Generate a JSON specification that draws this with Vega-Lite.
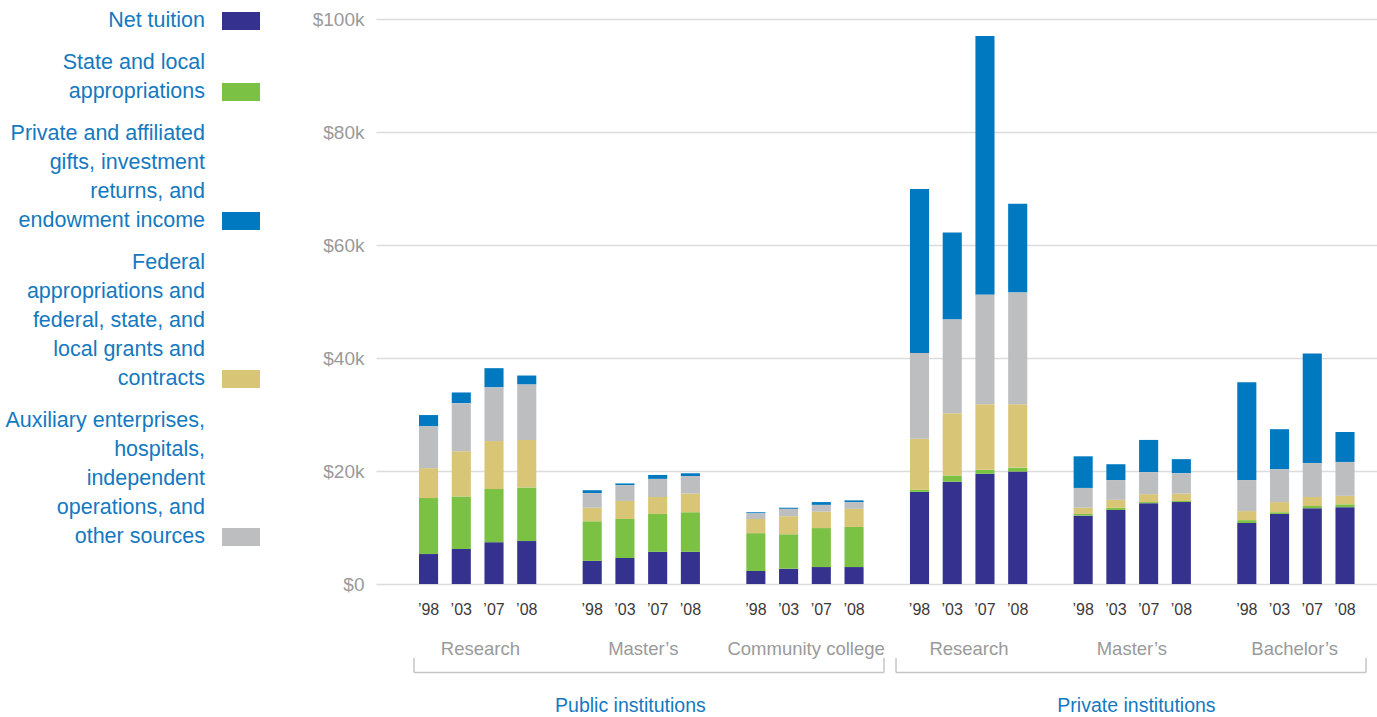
{
  "$schema": "https://vega.github.io/schema/vega-lite/v6.json",
  "autosize": {"type": "none"},
  "padding": {"left": 376, "top": 19, "right": 0, "bottom": 133},
  "width": 1001,
  "height": 565,
  "background": "white",
  "config": {
    "view": {"stroke": null},
    "font": "Liberation Sans",
    "legend": {"padding": 0}
  },
  "datasets": {
    "bars": [
      {"grp": "Public|Research", "key": "Public Research|’98", "tuition": 5300, "state": 9900, "federal": 5300, "aux": 7400, "gifts": 2000},
      {"grp": "Public|Research", "key": "Public Research|’03", "tuition": 6200, "state": 9300, "federal": 8000, "aux": 8500, "gifts": 1900},
      {"grp": "Public|Research", "key": "Public Research|’07", "tuition": 7400, "state": 9400, "federal": 8500, "aux": 9500, "gifts": 3400},
      {"grp": "Public|Research", "key": "Public Research|’08", "tuition": 7600, "state": 9500, "federal": 8400, "aux": 9800, "gifts": 1600},
      {"grp": "Public|Master’s", "key": "Public Master’s|’98", "tuition": 4100, "state": 7000, "federal": 2400, "aux": 2600, "gifts": 500},
      {"grp": "Public|Master’s", "key": "Public Master’s|’03", "tuition": 4600, "state": 6900, "federal": 3200, "aux": 2800, "gifts": 300},
      {"grp": "Public|Master’s", "key": "Public Master’s|’07", "tuition": 5700, "state": 6700, "federal": 3000, "aux": 3200, "gifts": 700},
      {"grp": "Public|Master’s", "key": "Public Master’s|’08", "tuition": 5700, "state": 7000, "federal": 3300, "aux": 3100, "gifts": 500},
      {"grp": "Public|Community college", "key": "Public Community college|’98", "tuition": 2300, "state": 6700, "federal": 2500, "aux": 1000, "gifts": 200},
      {"grp": "Public|Community college", "key": "Public Community college|’03", "tuition": 2700, "state": 6100, "federal": 3200, "aux": 1300, "gifts": 200},
      {"grp": "Public|Community college", "key": "Public Community college|’07", "tuition": 3000, "state": 6900, "federal": 2900, "aux": 1200, "gifts": 500},
      {"grp": "Public|Community college", "key": "Public Community college|’08", "tuition": 3000, "state": 7100, "federal": 3200, "aux": 1200, "gifts": 300},
      {"grp": "Private|Research", "key": "Private Research|’98", "tuition": 16300, "state": 400, "federal": 9000, "aux": 15200, "gifts": 29000},
      {"grp": "Private|Research", "key": "Private Research|’03", "tuition": 18100, "state": 1100, "federal": 11000, "aux": 16600, "gifts": 15400},
      {"grp": "Private|Research", "key": "Private Research|’07", "tuition": 19500, "state": 700, "federal": 11600, "aux": 19400, "gifts": 45800},
      {"grp": "Private|Research", "key": "Private Research|’08", "tuition": 19900, "state": 700, "federal": 11200, "aux": 19800, "gifts": 15700},
      {"grp": "Private|Master’s", "key": "Private Master’s|’98", "tuition": 12100, "state": 300, "federal": 1100, "aux": 3500, "gifts": 5600},
      {"grp": "Private|Master’s", "key": "Private Master’s|’03", "tuition": 13100, "state": 400, "federal": 1400, "aux": 3500, "gifts": 2800},
      {"grp": "Private|Master’s", "key": "Private Master’s|’07", "tuition": 14300, "state": 200, "federal": 1400, "aux": 3900, "gifts": 5700},
      {"grp": "Private|Master’s", "key": "Private Master’s|’08", "tuition": 14500, "state": 200, "federal": 1300, "aux": 3600, "gifts": 2500},
      {"grp": "Private|Bachelor’s", "key": "Private Bachelor’s|’98", "tuition": 10800, "state": 500, "federal": 1600, "aux": 5500, "gifts": 17300},
      {"grp": "Private|Bachelor’s", "key": "Private Bachelor’s|’03", "tuition": 12400, "state": 300, "federal": 1800, "aux": 5800, "gifts": 7100},
      {"grp": "Private|Bachelor’s", "key": "Private Bachelor’s|’07", "tuition": 13400, "state": 400, "federal": 1600, "aux": 6000, "gifts": 19400},
      {"grp": "Private|Bachelor’s", "key": "Private Bachelor’s|’08", "tuition": 13600, "state": 500, "federal": 1500, "aux": 6000, "gifts": 5300}
    ],
    "groups": [
      {"grp": "Public|Research"},
      {"grp": "Public|Master’s"},
      {"grp": "Public|Community college"},
      {"grp": "Private|Research"},
      {"grp": "Private|Master’s"},
      {"grp": "Private|Bachelor’s"}
    ],
    "sectors": [
      {"sector": "Public institutions"},
      {"sector": "Private institutions"}
    ]
  },
  "layer": [
    {
      "data": {"name": "bars"},
      "transform": [
        {"fold": ["tuition", "state", "gifts", "federal", "aux"], "as": ["source", "value"]},
        {"calculate": "indexof(['tuition','state','federal','aux','gifts'], datum.source)", "as": "stackOrder"}
      ],
      "mark": {"type": "bar"},
      "encoding": {
        "x": {
          "field": "key",
          "type": "nominal",
          "sort": null,
          "scale": {
            "domain": [
              "Public Research|’98", "Public Research|’03", "Public Research|’07", "Public Research|’08", "gap1",
              "Public Master’s|’98", "Public Master’s|’03", "Public Master’s|’07", "Public Master’s|’08", "gap2",
              "Public Community college|’98", "Public Community college|’03", "Public Community college|’07", "Public Community college|’08", "gap3",
              "Private Research|’98", "Private Research|’03", "Private Research|’07", "Private Research|’08", "gap4",
              "Private Master’s|’98", "Private Master’s|’03", "Private Master’s|’07", "Private Master’s|’08", "gap5",
              "Private Bachelor’s|’98", "Private Bachelor’s|’03", "Private Bachelor’s|’07", "Private Bachelor’s|’08"
            ],
            "paddingInner": 0.4167,
            "paddingOuter": 1.0746,
            "align": 0.657
          },
          "axis": {
            "orient": "bottom",
            "title": null,
            "domain": false,
            "ticks": false,
            "tickSize": 0,
            "labelAngle": 0,
            "labelPadding": 17,
            "labelFontSize": 16,
            "labelColor": "#3a3a3a",
            "labelExpr": "indexof(datum.label, '|') >= 0 ? split(datum.label, '|')[1] : ''",
            "grid": false
          }
        },
        "y": {
          "field": "value",
          "type": "quantitative",
          "stack": "zero",
          "scale": {"domain": [0, 100000], "nice": false},
          "axis": {
            "title": null,
            "values": [0, 20000, 40000, 60000, 80000, 100000],
            "labelExpr": "datum.value == 0 ? '$0' : '$' + (datum.value / 1000) + 'k'",
            "domain": false,
            "ticks": false,
            "labelPadding": 12,
            "labelFontSize": 19,
            "labelColor": "#9a9a9a",
            "grid": true,
            "gridColor": "#dcdcdc",
            "gridWidth": 1.5
          }
        },
        "color": {
          "field": "source",
          "type": "nominal",
          "scale": {
            "domain": ["tuition", "state", "gifts", "federal", "aux"],
            "range": ["#35318f", "#7bc143", "#0079c1", "#d9c576", "#bdbec0"]
          },
          "legend": {
            "title": null,
            "orient": "none",
            "legendX": -154,
            "legendY": -17,
            "symbolType": "M-1,-0.474H1V0.474H-1Z",
            "symbolSize": 1444,
            "symbolStrokeWidth": 0,
            "symbolOpacity": 1,
            "labelAlign": "right",
            "labelOffset": -55,
            "labelFontSize": 21.5,
            "labelColor": "#1479c0",
            "labelLimit": 400,
            "rowPadding": 20,
            "labelExpr": "datum.value == 'tuition' ? 'Net tuition' : datum.value == 'state' ? ['State and local', 'appropriations'] : datum.value == 'gifts' ? ['Private and affiliated', 'gifts, investment', 'returns, and', 'endowment income'] : datum.value == 'federal' ? ['Federal', 'appropriations and', 'federal, state, and', 'local grants and', 'contracts'] : ['Auxiliary enterprises,', 'hospitals,', 'independent', 'operations, and', 'other sources']",
            "labelBaseline": "middle",
            "encode": {
              "labels": {
                "update": {
                  "lineHeight": {"value": 29},
                  "dy": {"signal": "datum.value == 'tuition' ? 0 : datum.value == 'state' ? -29 : datum.value == 'gifts' ? -87 : -116"}
                }
              }
            }
          }
        },
        "order": {"field": "stackOrder", "type": "quantitative", "sort": "ascending"}
      }
    },
    {
      "data": {"name": "groups"},
      "mark": {"type": "tick", "opacity": 0},
      "encoding": {
        "x": {
          "field": "grp",
          "type": "nominal",
          "sort": null,
          "scale": {
            "type": "band",
            "domain": ["Public|Research", "Public|Master’s", "Public|Community college", "Private|Research", "Private|Master’s", "Private|Bachelor’s"],
            "paddingInner": 0,
            "paddingOuter": 0.0734,
            "align": 0.962
          },
          "axis": {
            "orient": "bottom",
            "title": null,
            "domain": false,
            "ticks": false,
            "tickSize": 0,
            "labelAngle": 0,
            "labelPadding": 55,
            "labelFontSize": 18.5,
            "labelColor": "#9a9a9a",
            "labelExpr": "split(datum.label, '|')[1]",
            "grid": false
          }
        },
        "y": {"datum": 0, "type": "quantitative"}
      }
    },
    {
      "data": {"name": "sectors"},
      "mark": {"type": "point", "opacity": 0},
      "encoding": {
        "x": {
          "field": "sector",
          "type": "nominal",
          "sort": null,
          "scale": {
            "type": "point",
            "domain": ["Public institutions", "Private institutions"],
            "padding": 0.489,
            "align": 0.513
          },
          "axis": {
            "orient": "bottom",
            "title": null,
            "domain": false,
            "ticks": false,
            "tickSize": 0,
            "labelAngle": 0,
            "labelPadding": 112,
            "labelFontSize": 19.5,
            "labelColor": "#1479c0",
            "grid": false
          }
        },
        "y": {"datum": 0, "type": "quantitative"}
      }
    },
    {
      "data": {"name": "sectors"},
      "layer": [
        {
          "mark": {"type": "rule", "color": "#c6c6c6", "strokeWidth": 1.5},
          "encoding": {
            "x": {
              "field": "sector",
              "type": "nominal",
              "sort": null,
              "bandPosition": 0,
              "scale": {
                "domain": ["Public institutions", "Private institutions"],
                "paddingInner": 0.0249,
                "paddingOuter": 0.0508,
                "align": 0.776
              },
              "axis": null
            },
            "x2": {"field": "sector", "bandPosition": 1},
            "y": {"datum": -15660, "type": "quantitative"}
          }
        },
        {
          "mark": {"type": "rule", "color": "#c6c6c6", "strokeWidth": 1.5},
          "encoding": {
            "x": {"field": "sector", "type": "nominal", "sort": null, "bandPosition": 0},
            "y": {"datum": -13100, "type": "quantitative"},
            "y2": {"datum": -15660}
          }
        },
        {
          "mark": {"type": "rule", "color": "#c6c6c6", "strokeWidth": 1.5},
          "encoding": {
            "x": {"field": "sector", "type": "nominal", "sort": null, "bandPosition": 1},
            "y": {"datum": -13100, "type": "quantitative"},
            "y2": {"datum": -15660}
          }
        }
      ]
    }
  ],
  "resolve": {"scale": {"x": "independent"}, "axis": {"x": "independent"}}
}
